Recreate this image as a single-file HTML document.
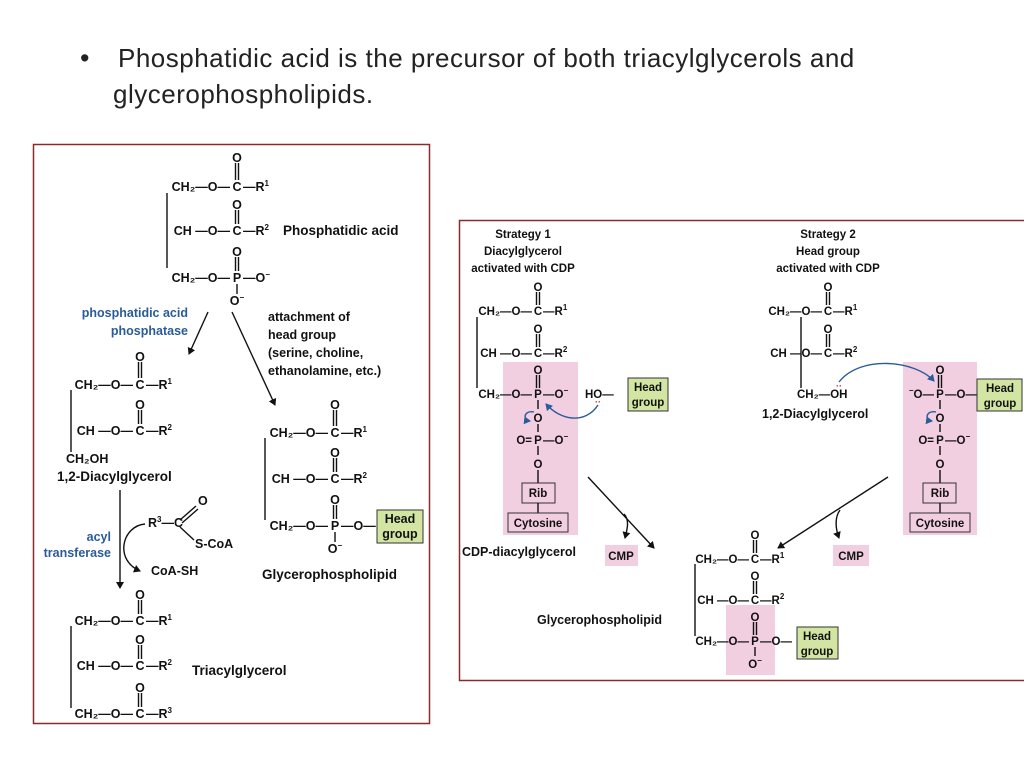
<!DOCTYPE html>
<html><head><meta charset="utf-8"><style>
body{margin:0;width:1024px;height:768px;background:#fff;overflow:hidden;position:relative;font-family:"Liberation Sans",sans-serif}
.t{position:absolute;font-size:27px;color:#222;line-height:32px}
svg{position:absolute;left:0;top:0}
svg text{font-family:"Liberation Sans",sans-serif;font-weight:bold;fill:#111}
.L text{font-size:12.5px}
.R text{font-size:11.5px}
.s{font-size:8px}
.b{fill:#2a5b9a!important}
line,path{stroke:#111;stroke-width:1.4;fill:none}
</style></head><body>
<div class="t" style="left:80px;top:42px">•</div>
<div class="t" style="left:118px;top:42px;font-size:26px;letter-spacing:0.5px">Phosphatidic acid is the precursor of both triacylglycerols and</div>
<div class="t" style="left:113px;top:78px;font-size:26px;letter-spacing:0.5px">glycerophospholipids.</div>
<svg width="1024" height="768" viewBox="0 0 1024 768">
<defs><marker id="a" markerWidth="8" markerHeight="8" refX="6" refY="4" orient="auto" markerUnits="userSpaceOnUse"><path d="M0 0L7 4L0 8z" style="fill:#111;stroke:none"/></marker>
<marker id="ab" markerWidth="8" markerHeight="8" refX="6" refY="4" orient="auto" markerUnits="userSpaceOnUse"><path d="M0 0L7 4L0 8z" style="fill:#2a5b9a;stroke:none"/></marker></defs>
<rect x="33.5" y="144.5" width="396" height="579" style="fill:none;stroke:#8b2a2a;stroke-width:1.5"/>
<rect x="459.5" y="220.5" width="570" height="460" style="fill:none;stroke:#8b2a2a;stroke-width:1.5"/>
<rect x="503" y="362" width="75" height="173" fill="#f2cfe0"/>
<rect x="903" y="362" width="74" height="173" fill="#f2cfe0"/>
<rect x="726" y="605" width="49" height="70" fill="#f2cfe0"/>
<rect x="605" y="545" width="33" height="21" fill="#f2cfe0"/>
<rect x="833" y="545" width="36" height="21" fill="#f2cfe0"/>
<g class="L">
<line x1="167" y1="193" x2="167" y2="268"/>
<g transform="translate(237,191)"><text x="-7" text-anchor="end">CH₂—O—</text><text text-anchor="middle">C</text><text x="6">—R<tspan class="s" dy="-5">1</tspan></text><text y="-29" text-anchor="middle">O</text><path d="M-1.5 -28V-11M1.5 -28V-11"/></g>
<g transform="translate(237,235)"><text x="-7" text-anchor="end">CH  —O—</text><text text-anchor="middle">C</text><text x="6">—R<tspan class="s" dy="-5">2</tspan></text><text y="-26" text-anchor="middle">O</text><path d="M-1.5 -25V-11M1.5 -25V-11"/></g>
<g transform="translate(237,282)"><text x="-7" text-anchor="end">CH₂—O—</text><text text-anchor="middle">P</text><text x="6">—O<tspan class="s" dy="-5">−</tspan></text><text y="-26" text-anchor="middle">O</text><path d="M-1.5 -25V-11M1.5 -25V-11M0 2V12"/><text y="23" text-anchor="middle">O<tspan class="s" dy="-5">−</tspan></text></g>
<text x="283" y="235" style="font-size:13.5px">Phosphatidic acid</text>
<text class="b" x="188" y="317" text-anchor="end">phosphatidic acid</text>
<text class="b" x="188" y="335" text-anchor="end">phosphatase</text>
<line x1="208" y1="312" x2="189" y2="354" marker-end="url(#a)"/>
<line x1="232" y1="312" x2="275" y2="405" marker-end="url(#a)"/>
<text x="268" y="321">attachment  of</text><text x="268" y="339">head group</text><text x="268" y="357">(serine, choline,</text><text x="268" y="375">ethanolamine, etc.)</text>
<line x1="71" y1="390" x2="71" y2="452"/>
<g transform="translate(140,389)"><text x="-7" text-anchor="end">CH₂—O—</text><text text-anchor="middle">C</text><text x="6">—R<tspan class="s" dy="-5">1</tspan></text><text y="-28" text-anchor="middle">O</text><path d="M-1.5 -27V-11M1.5 -27V-11"/></g>
<g transform="translate(140,435)"><text x="-7" text-anchor="end">CH  —O—</text><text text-anchor="middle">C</text><text x="6">—R<tspan class="s" dy="-5">2</tspan></text><text y="-26" text-anchor="middle">O</text><path d="M-1.5 -25V-11M1.5 -25V-11"/></g>
<text x="66" y="463">CH₂OH</text>
<text x="57" y="481" style="font-size:13.5px">1,2-Diacylglycerol</text>
<line x1="120" y1="490" x2="120" y2="588" marker-end="url(#a)"/>
<text class="b" x="111" y="541" text-anchor="end">acyl</text><text class="b" x="111" y="557" text-anchor="end">transferase</text>
<path d="M145 524C122 526 114 560 140 571" marker-end="url(#a)"/>
<text x="148" y="527">R<tspan class="s" dy="-5">3</tspan><tspan dy="5">—C</tspan></text>
<path d="M180 520L196 506M182 523L198 509M180 527L194 540"/>
<text x="198" y="505">O</text><text x="195" y="548">S-CoA</text>
<text x="151" y="575">CoA-SH</text>
<line x1="71" y1="626" x2="71" y2="708"/>
<g transform="translate(140,625)"><text x="-7" text-anchor="end">CH₂—O—</text><text text-anchor="middle">C</text><text x="6">—R<tspan class="s" dy="-5">1</tspan></text><text y="-26" text-anchor="middle">O</text><path d="M-1.5 -25V-11M1.5 -25V-11"/></g>
<g transform="translate(140,670)"><text x="-7" text-anchor="end">CH  —O—</text><text text-anchor="middle">C</text><text x="6">—R<tspan class="s" dy="-5">2</tspan></text><text y="-26" text-anchor="middle">O</text><path d="M-1.5 -25V-11M1.5 -25V-11"/></g>
<g transform="translate(140,718)"><text x="-7" text-anchor="end">CH₂—O—</text><text text-anchor="middle">C</text><text x="6">—R<tspan class="s" dy="-5">3</tspan></text><text y="-26" text-anchor="middle">O</text><path d="M-1.5 -25V-11M1.5 -25V-11"/></g>
<text x="192" y="675" style="font-size:13.5px">Triacylglycerol</text>
<line x1="265" y1="438" x2="265" y2="520"/>
<g transform="translate(335,437)"><text x="-7" text-anchor="end">CH₂—O—</text><text text-anchor="middle">C</text><text x="6">—R<tspan class="s" dy="-5">1</tspan></text><text y="-28" text-anchor="middle">O</text><path d="M-1.5 -27V-11M1.5 -27V-11"/></g>
<g transform="translate(335,483)"><text x="-7" text-anchor="end">CH  —O—</text><text text-anchor="middle">C</text><text x="6">—R<tspan class="s" dy="-5">2</tspan></text><text y="-26" text-anchor="middle">O</text><path d="M-1.5 -25V-11M1.5 -25V-11"/></g>
<g transform="translate(335,530)"><text x="-7" text-anchor="end">CH₂—O—</text><text text-anchor="middle">P</text><text x="6">—O—</text><text y="-26" text-anchor="middle">O</text><path d="M-1.5 -25V-11M1.5 -25V-11M0 2V12"/><text y="23" text-anchor="middle">O<tspan class="s" dy="-5">−</tspan></text></g>
<rect x="377" y="510" width="46" height="33" style="fill:#d3e5a3;stroke:#333;stroke-width:1"/>
<text x="400" y="523" text-anchor="middle">Head</text><text x="400" y="538" text-anchor="middle">group</text>
<text x="262" y="579" style="font-size:13.5px">Glycerophospholipid</text>
</g>
<g class="R">
<text x="523" y="238" text-anchor="middle">Strategy 1</text><text x="523" y="255" text-anchor="middle">Diacylglycerol</text><text x="523" y="272" text-anchor="middle">activated with CDP</text>
<text x="828" y="238" text-anchor="middle">Strategy 2</text><text x="828" y="255" text-anchor="middle">Head group</text><text x="828" y="272" text-anchor="middle">activated with CDP</text>
<line x1="477" y1="317" x2="477" y2="388"/>
<g transform="translate(538,315)"><text x="-6" text-anchor="end">CH₂—O—</text><text text-anchor="middle">C</text><text x="5">—R<tspan class="s" dy="-5">1</tspan></text><text y="-24" text-anchor="middle">O</text><path d="M-1.5 -23V-10M1.5 -23V-10"/></g>
<g transform="translate(538,357)"><text x="-6" text-anchor="end">CH  —O—</text><text text-anchor="middle">C</text><text x="5">—R<tspan class="s" dy="-5">2</tspan></text><text y="-24" text-anchor="middle">O</text><path d="M-1.5 -23V-10M1.5 -23V-10"/></g>
<g transform="translate(538,398)"><text x="-6" text-anchor="end">CH₂—O—</text><text text-anchor="middle">P</text><text x="5">—O<tspan class="s" dy="-5">−</tspan></text><text y="-24" text-anchor="middle">O</text><path d="M-1.5 -23V-10M1.5 -23V-10M0 2V11"/><text y="24" text-anchor="middle">O</text><path d="M0 26V34"/><text x="-6" y="46" text-anchor="end">O=</text><text y="46" text-anchor="middle">P</text><text x="5" y="46">—O<tspan class="s" dy="-5">−</tspan></text><path d="M0 48V57"/><text y="70" text-anchor="middle">O</text><path d="M0 72V85"/></g>
<rect x="522" y="483" width="33" height="20" style="fill:none;stroke:#333"/><text x="538" y="497" text-anchor="middle">Rib</text>
<line x1="538" y1="503" x2="538" y2="513"/>
<rect x="508" y="513" width="60" height="19" style="fill:none;stroke:#333"/><text x="538" y="527" text-anchor="middle">Cytosine</text>
<text x="585" y="398">HO—</text><text x="595" y="405" style="fill:#c22;font-size:9px">··</text>
<rect x="628" y="378" width="40" height="33" style="fill:#d3e5a3;stroke:#333;stroke-width:1"/>
<text x="648" y="391" text-anchor="middle">Head</text><text x="648" y="406" text-anchor="middle">group</text>
<path d="M598 405C585 425 560 420 546 404" style="stroke:#2a5b9a" marker-end="url(#ab)"/>
<path d="M534 412C524 410 522 420 530 421" style="stroke:#2a5b9a" marker-end="url(#ab)"/>
<text x="462" y="556" style="font-size:12.5px">CDP-diacylglycerol</text>
<line x1="801" y1="317" x2="801" y2="388"/>
<g transform="translate(828,315)"><text x="-6" text-anchor="end">CH₂—O—</text><text text-anchor="middle">C</text><text x="5">—R<tspan class="s" dy="-5">1</tspan></text><text y="-24" text-anchor="middle">O</text><path d="M-1.5 -23V-10M1.5 -23V-10"/></g>
<g transform="translate(828,357)"><text x="-6" text-anchor="end">CH  —O—</text><text text-anchor="middle">C</text><text x="5">—R<tspan class="s" dy="-5">2</tspan></text><text y="-24" text-anchor="middle">O</text><path d="M-1.5 -23V-10M1.5 -23V-10"/></g>
<text x="797" y="398">CH₂—OH</text><text x="836" y="389" style="fill:#c22;font-size:9px">··</text>
<text x="762" y="418" style="font-size:12.5px">1,2-Diacylglycerol</text>
<g transform="translate(940,398)"><text x="-6" text-anchor="end"><tspan class="s" dy="-5">−</tspan><tspan dy="5">O—</tspan></text><text text-anchor="middle">P</text><text x="5">—O—</text><text y="-24" text-anchor="middle">O</text><path d="M-1.5 -23V-10M1.5 -23V-10M0 2V11"/><text y="24" text-anchor="middle">O</text><path d="M0 26V34"/><text x="-6" y="46" text-anchor="end">O=</text><text y="46" text-anchor="middle">P</text><text x="5" y="46">—O<tspan class="s" dy="-5">−</tspan></text><path d="M0 48V57"/><text y="70" text-anchor="middle">O</text><path d="M0 72V85"/></g>
<rect x="923" y="483" width="33" height="20" style="fill:none;stroke:#333"/><text x="940" y="497" text-anchor="middle">Rib</text>
<line x1="940" y1="503" x2="940" y2="513"/>
<rect x="910" y="513" width="60" height="19" style="fill:none;stroke:#333"/><text x="940" y="527" text-anchor="middle">Cytosine</text>
<rect x="977" y="379" width="45" height="32" style="fill:#d3e5a3;stroke:#333;stroke-width:1"/>
<text x="1000" y="392" text-anchor="middle">Head</text><text x="1000" y="407" text-anchor="middle">group</text>
<path d="M839 382C860 355 915 360 934 381" style="stroke:#2a5b9a" marker-end="url(#ab)"/>
<path d="M936 412C926 410 924 420 932 421" style="stroke:#2a5b9a" marker-end="url(#ab)"/>
<line x1="588" y1="477" x2="654" y2="548" marker-end="url(#a)"/>
<path d="M624 514C630 520 627 530 625 538" marker-end="url(#a)"/>
<line x1="888" y1="477" x2="778" y2="548" marker-end="url(#a)"/>
<path d="M840 510C834 518 836 530 839 538" marker-end="url(#a)"/>
<text x="621" y="560" text-anchor="middle">CMP</text><text x="851" y="560" text-anchor="middle">CMP</text>
<line x1="695" y1="564" x2="695" y2="636"/>
<g transform="translate(755,563)"><text x="-6" text-anchor="end">CH₂—O—</text><text text-anchor="middle">C</text><text x="5">—R<tspan class="s" dy="-5">1</tspan></text><text y="-24" text-anchor="middle">O</text><path d="M-1.5 -23V-10M1.5 -23V-10"/></g>
<g transform="translate(755,604)"><text x="-6" text-anchor="end">CH  —O—</text><text text-anchor="middle">C</text><text x="5">—R<tspan class="s" dy="-5">2</tspan></text><text y="-24" text-anchor="middle">O</text><path d="M-1.5 -23V-10M1.5 -23V-10"/></g>
<g transform="translate(755,645)"><text x="-6" text-anchor="end">CH₂—O—</text><text text-anchor="middle">P</text><text x="5">—O—</text><text y="-24" text-anchor="middle">O</text><path d="M-1.5 -23V-10M1.5 -23V-10M0 2V11"/><text y="23" text-anchor="middle">O<tspan class="s" dy="-5">−</tspan></text></g>
<rect x="797" y="627" width="41" height="32" style="fill:#d3e5a3;stroke:#333;stroke-width:1"/>
<text x="817" y="640" text-anchor="middle">Head</text><text x="817" y="655" text-anchor="middle">group</text>
<text x="537" y="624" style="font-size:12.5px">Glycerophospholipid</text>
</g>
</svg>
</body></html>
